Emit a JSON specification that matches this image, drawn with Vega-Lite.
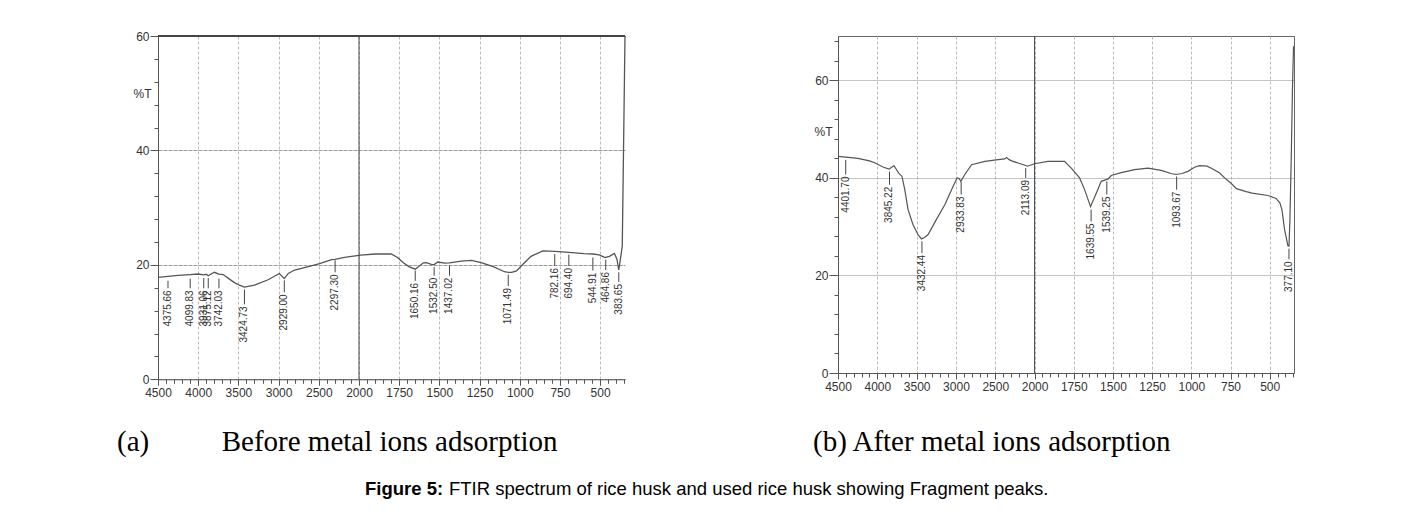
{
  "$schema": "https://vega.github.io/schema/vega-lite/v6.json",
  "background": "white",
  "padding": {"left": 117, "top": 30, "right": 5, "bottom": 5},
  "title": {
    "text": "FTIR spectrum of rice husk and used rice husk showing Fragment peaks.",
    "orient": "bottom", "anchor": "start", "frame": "group", "dx": 291, "offset": -18.5,
    "font": "Liberation Sans", "fontSize": 18.5, "fontWeight": "normal", "color": "#000"
  },
  "config": {
    "view": {"stroke": null},
    "axis": {
      "labelFont": "Liberation Sans Narrow, Liberation Sans, sans-serif",
      "labelFontSize": 12, "labelColor": "#333",
      "domainColor": "#555", "tickColor": "#555",
      "titleFont": "Liberation Sans Narrow, Liberation Sans, sans-serif",
      "titleFontSize": 12, "titleFontWeight": "normal", "titleColor": "#333",
      "labelFlush": false, "labelOverlap": false
    }
  },
  "vconcat": [
    {
      "spacing": 184,
      "title": {
        "text": "Figure 5:",
        "orient": "bottom", "anchor": "start", "frame": "group", "dx": 207, "offset": 22,
        "font": "Liberation Sans", "fontSize": 18.5, "fontWeight": "bold", "color": "#000"
      },
      "hconcat": [
        {
          "width": 467,
          "height": 343.3,
          "view": {"stroke": null},
          "title": {
            "text": "(a)\u2003\u2003\u00a0\u00a0Before metal ions adsorption",
            "orient": "bottom", "anchor": "start", "frame": "group", "dx": -41, "offset": 30,
            "font": "Liberation Serif", "fontSize": 29, "fontWeight": "normal", "color": "#000"
          },
          "resolve": {"axis": {"x": "independent", "y": "independent"}},
          "layer": [
            {
              "data": {"values": [
                {"w":4500,"t":17.8},{"w":4375,"t":18.0},{"w":4250,"t":18.15},{"w":4100,"t":18.3},{"w":4000,"t":18.4},
                {"w":3931,"t":18.25},{"w":3900,"t":18.35},{"w":3875,"t":18.1},{"w":3800,"t":18.7},{"w":3742,"t":18.4},
                {"w":3690,"t":18.3},{"w":3620,"t":17.6},{"w":3550,"t":16.9},{"w":3480,"t":16.4},{"w":3425,"t":16.1},
                {"w":3300,"t":16.45},{"w":3130,"t":17.4},{"w":2990,"t":18.5},{"w":2929,"t":17.6},{"w":2880,"t":18.5},
                {"w":2800,"t":19.1},{"w":2630,"t":19.7},{"w":2490,"t":20.2},{"w":2340,"t":20.9},{"w":2300,"t":20.95},
                {"w":2180,"t":21.3},{"w":1990,"t":21.7},{"w":1900,"t":21.9},{"w":1800,"t":21.9},{"w":1760,"t":21.3},
                {"w":1726,"t":20.4},{"w":1690,"t":19.7},{"w":1650,"t":19.25},{"w":1620,"t":19.9},{"w":1600,"t":20.35},
                {"w":1580,"t":20.4},{"w":1550,"t":20.1},{"w":1532,"t":20.05},{"w":1510,"t":20.5},{"w":1467,"t":20.3},
                {"w":1437,"t":20.35},{"w":1365,"t":20.65},{"w":1300,"t":20.8},{"w":1240,"t":20.4},{"w":1165,"t":19.7},
                {"w":1095,"t":18.8},{"w":1071,"t":18.7},{"w":1050,"t":18.7},{"w":1020,"t":18.95},{"w":980,"t":20.1},
                {"w":930,"t":21.5},{"w":856,"t":22.45},{"w":782,"t":22.35},{"w":694,"t":22.2},{"w":600,"t":21.95},
                {"w":545,"t":21.9},{"w":505,"t":21.75},{"w":473,"t":21.3},{"w":465,"t":21.3},{"w":442,"t":21.5},
                {"w":411,"t":22.0},{"w":395,"t":21.0},{"w":384,"t":19.1},{"w":375,"t":20.7},{"w":362,"t":23.3},
                {"w":345,"t":60}
              ]},
              "mark": {"type": "line", "color": "#555", "strokeWidth": 1.3},
              "encoding": {
                "x": {"field": "w", "type": "quantitative",
                  "scale": {"domain": [4500, 2000, 345], "range": [0, 201, 467], "nice": false, "zero": false},
                  "axis": {"values": [4500,4000,3500,3000,2500,2000,1750,1500,1250,1000,750,500], "format": "d",
                    "grid": true, "gridColor": "#bbb", "gridDash": [3,2], "tickSize": 6, "labelPadding": 2, "title": null}},
                "y": {"field": "t", "type": "quantitative",
                  "scale": {"domain": [0, 60], "nice": false, "zero": true},
                  "axis": {"values": [0,20,40,60], "format": "d", "tickSize": 8, "labelPadding": 1,
                    "grid": true, "gridColor": "#999", "gridDash": [4,1],
                    "title": "%T", "titleAngle": 0, "titleX": -16, "titleY": 57.7, "titleAlign": "center", "titleBaseline": "middle"}}
              }
            },
            {
              "data": {"values": [{"w": 2000}]},
              "mark": {"type": "rule", "color": "#444", "strokeWidth": 1},
              "encoding": {
                "x": {"field": "w", "type": "quantitative",
                  "axis": {"orient": "bottom", "values": [4400,4300,4200,4100,3900,3800,3700,3600,3400,3300,3200,3100,2900,2800,2700,2600,2400,2300,2200,2100,1950,1900,1850,1800,1700,1650,1600,1550,1450,1400,1350,1300,1200,1150,1100,1050,950,900,850,800,700,650,600,550,450,400,350],
                    "labels": false, "domain": false, "grid": false, "tickSize": 4, "title": null}}
              }
            },
            {
              "data": {"values": [{"t": 60}]},
              "mark": {"type": "rule", "color": "#444", "strokeWidth": 2},
              "encoding": {"y": {"field": "t", "type": "quantitative", "axis": null}}
            },
            {
              "data": {"values": [
                {"w":4375.66,"y1":17.2,"y2":15.9,"label":"4375.66"},
                {"w":4099.83,"y1":17.6,"y2":15.9,"label":"4099.83"},
                {"w":3931.06,"y1":17.7,"y2":15.9,"label":"3931.06"},
                {"w":3875.12,"y1":17.7,"y2":15.9,"label":"3875.12"},
                {"w":3742.03,"y1":17.6,"y2":15.9,"label":"3742.03"},
                {"w":3424.73,"y1":15.7,"y2":13.1,"label":"3424.73"},
                {"w":2929.00,"y1":17.3,"y2":15.2,"label":"2929.00"},
                {"w":2297.30,"y1":20.8,"y2":18.7,"label":"2297.30"},
                {"w":1650.16,"y1":19.0,"y2":17.2,"label":"1650.16"},
                {"w":1532.50,"y1":19.6,"y2":18.1,"label":"1532.50"},
                {"w":1437.02,"y1":19.9,"y2":18.1,"label":"1437.02"},
                {"w":1071.49,"y1":18.3,"y2":16.3,"label":"1071.49"},
                {"w":782.16,"y1":21.9,"y2":19.8,"label":"782.16"},
                {"w":694.40,"y1":21.8,"y2":19.8,"label":"694.40"},
                {"w":544.91,"y1":21.3,"y2":19.0,"label":"544.91"},
                {"w":464.86,"y1":20.9,"y2":19.1,"label":"464.86"},
                {"w":383.65,"y1":18.7,"y2":17.0,"label":"383.65"}
              ]},
              "mark": {"type": "rule", "color": "#444", "strokeWidth": 1},
              "encoding": {
                "x": {"field": "w", "type": "quantitative", "axis": null},
                "y": {"field": "y1", "type": "quantitative",
                  "axis": {"orient": "left", "values": [4,8,12,16,24,28,32,36,44,48,52,56],
                    "labels": false, "domain": false, "grid": false, "tickSize": 4, "title": null}},
                "y2": {"field": "y2"}
              }
            },
            {
              "data": {"values": [
                {"w":4375.66,"y2":15.9,"label":"4375.66"},
                {"w":4099.83,"y2":15.9,"label":"4099.83"},
                {"w":3931.06,"y2":15.9,"label":"3931.06"},
                {"w":3875.12,"y2":15.9,"label":"3875.12"},
                {"w":3742.03,"y2":15.9,"label":"3742.03"},
                {"w":3424.73,"y2":13.1,"label":"3424.73"},
                {"w":2929.00,"y2":15.2,"label":"2929.00"},
                {"w":2297.30,"y2":18.7,"label":"2297.30"},
                {"w":1650.16,"y2":17.2,"label":"1650.16"},
                {"w":1532.50,"y2":18.1,"label":"1532.50"},
                {"w":1437.02,"y2":18.1,"label":"1437.02"},
                {"w":1071.49,"y2":16.3,"label":"1071.49"},
                {"w":782.16,"y2":19.8,"label":"782.16"},
                {"w":694.40,"y2":19.8,"label":"694.40"},
                {"w":544.91,"y2":19.0,"label":"544.91"},
                {"w":464.86,"y2":19.1,"label":"464.86"},
                {"w":383.65,"y2":17.0,"label":"383.65"}
              ]},
              "mark": {"type": "text", "angle": 270, "align": "right", "baseline": "middle", "dx": -2,
                "font": "Liberation Sans", "fontSize": 10, "color": "#333"},
              "encoding": {
                "x": {"field": "w", "type": "quantitative", "axis": null},
                "y": {"field": "y2", "type": "quantitative", "axis": null},
                "text": {"field": "label"}
              }
            }
          ]
        },
        {
          "width": 456,
          "height": 337,
          "view": {"stroke": "#666", "strokeWidth": 1},
          "title": {
            "text": "(b) After metal ions adsorption",
            "orient": "bottom", "anchor": "start", "frame": "group", "dx": -25, "offset": 36,
            "font": "Liberation Serif", "fontSize": 29, "fontWeight": "normal", "color": "#000"
          },
          "resolve": {"axis": {"x": "independent", "y": "independent"}},
          "layer": [
            {
              "data": {"values": [
                {"w":4500,"t":44.4},{"w":4400,"t":44.25},{"w":4246,"t":44.0},{"w":4100,"t":43.5},{"w":4034,"t":43.1},
                {"w":3928,"t":42.25},{"w":3851,"t":41.8},{"w":3800,"t":42.4},{"w":3788,"t":42.5},{"w":3728,"t":41.0},
                {"w":3686,"t":40.3},{"w":3651,"t":37.6},{"w":3609,"t":33.5},{"w":3546,"t":30.4},{"w":3480,"t":28.3},
                {"w":3439,"t":27.5},{"w":3400,"t":27.8},{"w":3354,"t":28.4},{"w":3248,"t":31.5},{"w":3142,"t":34.5},
                {"w":3036,"t":38.3},{"w":2985,"t":40.0},{"w":2960,"t":39.9},{"w":2938,"t":39.3},{"w":2910,"t":40.1},
                {"w":2887,"t":40.7},{"w":2802,"t":42.7},{"w":2632,"t":43.4},{"w":2463,"t":43.75},{"w":2380,"t":43.9},
                {"w":2356,"t":44.2},{"w":2330,"t":43.8},{"w":2292,"t":43.5},{"w":2200,"t":43.0},{"w":2123,"t":42.6},
                {"w":2093,"t":42.4},{"w":2000,"t":42.9},{"w":1915,"t":43.4},{"w":1809,"t":43.4},{"w":1766,"t":42.0},
                {"w":1713,"t":40.0},{"w":1681,"t":37.6},{"w":1643,"t":34.1},{"w":1606,"t":36.9},{"w":1575,"t":39.3},
                {"w":1543,"t":39.65},{"w":1530,"t":39.8},{"w":1511,"t":40.5},{"w":1447,"t":41.1},{"w":1362,"t":41.7},
                {"w":1277,"t":42.0},{"w":1192,"t":41.55},{"w":1130,"t":40.9},{"w":1096,"t":40.7},{"w":1060,"t":40.9},
                {"w":1022,"t":41.35},{"w":980,"t":42.2},{"w":947,"t":42.5},{"w":900,"t":42.4},{"w":872,"t":42.0},
                {"w":819,"t":41.0},{"w":788,"t":40.0},{"w":750,"t":39.0},{"w":712,"t":37.8},{"w":650,"t":37.2},
                {"w":612,"t":36.9},{"w":511,"t":36.4},{"w":460,"t":35.8},{"w":435,"t":34.9},{"w":422,"t":33.5},
                {"w":405,"t":29.4},{"w":384,"t":26.1},{"w":377,"t":26.0},{"w":371,"t":31.5},{"w":362,"t":45},
                {"w":355,"t":58},{"w":348,"t":67}
              ]},
              "mark": {"type": "line", "color": "#555", "strokeWidth": 1.2},
              "encoding": {
                "x": {"field": "w", "type": "quantitative",
                  "scale": {"domain": [4500, 2000, 345], "range": [0, 196.6, 456], "nice": false, "zero": false},
                  "axis": {"values": [4500,4000,3500,3000,2500,2000,1750,1500,1250,1000,750,500], "format": "d",
                    "grid": true, "gridColor": "#bbb", "gridDash": [3,2], "tickSize": 6, "labelPadding": 2, "title": null}},
                "y": {"field": "t", "type": "quantitative",
                  "scale": {"domain": [0, 69.1], "nice": false, "zero": true},
                  "axis": {"values": [0,20,40,60], "format": "d", "tickSize": 9, "labelPadding": 1,
                    "grid": true, "gridColor": "#888", "gridDash": [1,1],
                    "title": "%T", "titleAngle": 0, "titleX": -15, "titleY": 95, "titleAlign": "center", "titleBaseline": "middle"}}
              }
            },
            {
              "data": {"values": [{"w": 2000}]},
              "mark": {"type": "rule", "color": "#444", "strokeWidth": 1},
              "encoding": {
                "x": {"field": "w", "type": "quantitative",
                  "axis": {"orient": "bottom", "values": [4400,4300,4200,4100,3900,3800,3700,3600,3400,3300,3200,3100,2900,2800,2700,2600,2400,2300,2200,2100,1950,1900,1850,1800,1700,1650,1600,1550,1450,1400,1350,1300,1200,1150,1100,1050,950,900,850,800,700,650,600,550,450,400,350],
                    "labels": false, "domain": false, "grid": false, "tickSize": 4, "title": null}}
              }
            },
            {
              "data": {"values": [
                {"w":4401.70,"y1":43.7,"y2":40.7,"label":"4401.70"},
                {"w":3845.22,"y1":41.3,"y2":38.6,"label":"3845.22"},
                {"w":3432.44,"y1":27.0,"y2":24.6,"label":"3432.44"},
                {"w":2933.83,"y1":39.2,"y2":36.6,"label":"2933.83"},
                {"w":2113.09,"y1":42.0,"y2":40.0,"label":"2113.09"},
                {"w":1639.55,"y1":33.5,"y2":31.1,"label":"1639.55"},
                {"w":1539.25,"y1":39.3,"y2":36.6,"label":"1539.25"},
                {"w":1093.67,"y1":40.3,"y2":37.6,"label":"1093.67"},
                {"w":377.10,"y1":25.5,"y2":23.3,"label":"377.10"}
              ]},
              "mark": {"type": "rule", "color": "#444", "strokeWidth": 1},
              "encoding": {
                "x": {"field": "w", "type": "quantitative", "axis": null},
                "y": {"field": "y1", "type": "quantitative",
                  "axis": {"orient": "left", "values": [4,8,12,16,24,28,32,36,44,48,52,56,64,68],
                    "labels": false, "domain": false, "grid": false, "tickSize": 4, "title": null}},
                "y2": {"field": "y2"}
              }
            },
            {
              "data": {"values": [
                {"w":4401.70,"y2":40.7,"label":"4401.70"},
                {"w":3845.22,"y2":38.6,"label":"3845.22"},
                {"w":3432.44,"y2":24.6,"label":"3432.44"},
                {"w":2933.83,"y2":36.6,"label":"2933.83"},
                {"w":2113.09,"y2":40.0,"label":"2113.09"},
                {"w":1639.55,"y2":31.1,"label":"1639.55"},
                {"w":1539.25,"y2":36.6,"label":"1539.25"},
                {"w":1093.67,"y2":37.6,"label":"1093.67"},
                {"w":377.10,"y2":23.3,"label":"377.10"}
              ]},
              "mark": {"type": "text", "angle": 270, "align": "right", "baseline": "middle", "dx": -2,
                "font": "Liberation Sans", "fontSize": 10, "color": "#333"},
              "encoding": {
                "x": {"field": "w", "type": "quantitative", "axis": null},
                "y": {"field": "y2", "type": "quantitative", "axis": null},
                "text": {"field": "label"}
              }
            }
          ]
        }
      ]
    }
  ]
}
